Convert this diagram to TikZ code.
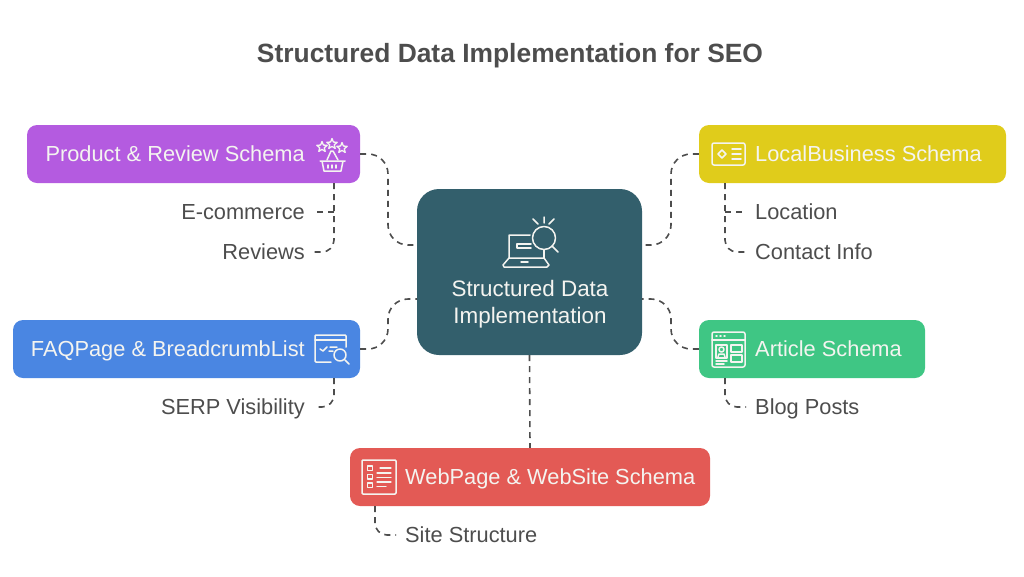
\documentclass[tikz,border=0pt]{standalone}
\usepackage{fontspec}
\setmainfont{Liberation Sans}
\usepackage{tikz}
\usetikzlibrary{positioning}
\definecolor{prodcol}{HTML}{B45BE0}
\definecolor{localcol}{HTML}{E0CC1B}
\definecolor{faqcol}{HTML}{4A86E2}
\definecolor{articlecol}{HTML}{3FC684}
\definecolor{webcol}{HTML}{E35A55}
\definecolor{datacol}{HTML}{335F6C}
\definecolor{inkcol}{HTML}{4D4D4D}
\definecolor{palecol}{HTML}{F4F4F0}
\tikzset{
	schemabox/.style={draw=none, rounded corners=10pt, inner sep=0pt, minimum height=58pt},
	schematext/.style={text=palecol, inner sep=0pt, font=\fontsize{21.8}{26}\selectfont, text height=18pt, text depth=3pt},
	leaf/.style={text=inkcol, inner xsep=9pt, inner ysep=0pt, font=\fontsize{21.8}{26}\selectfont, text height=18pt, text depth=3pt},
	link/.style={draw=inkcol, line width=1.6pt, dash pattern=on 6pt off 5pt, rounded corners=20pt},
	sublink/.style={draw=inkcol, line width=1.6pt, dash pattern=on 6pt off 5pt, rounded corners=12pt},
	iconline/.style={draw=palecol, line width=1.5pt, line join=round, line cap=round}
}
\begin{document}
\begin{tikzpicture}[x=1pt,y=-1pt]
	\useasboundingbox (0,0) rectangle (1024,576);
	\node[text=inkcol, inner sep=0pt, font=\bfseries\fontsize{26.4}{32}\selectfont] (title) at (510,55.5) {Structured Data Implementation for SEO};

	\node[schemabox, fill=datacol, rounded corners=22pt, minimum width=225pt, minimum height=166pt] (data) at (529.5,272) {};
	\node[text=palecol, inner sep=0pt, align=center, font=\fontsize{22.4}{27}\selectfont] (datatext) at (530,304) {Structured Data\\Implementation};

	\node[schemabox, fill=prodcol, minimum width=333pt] (prod) at (193.5,154) {};
	\node[schemabox, fill=localcol, minimum width=307pt] (local) at (852.5,154) {};
	\node[schemabox, fill=faqcol, minimum width=347pt] (faq) at (186.5,349) {};
	\node[schemabox, fill=articlecol, minimum width=226pt] (article) at (812,349) {};
	\node[schemabox, fill=webcol, minimum width=360pt] (web) at (530,477) {};

	\node[schematext, anchor=east] (prodtext) at (305,154) {Product \& Review Schema};
	\node[schematext, anchor=west] (localtext) at (755,154) {LocalBusiness Schema};
	\node[schematext, anchor=east] (faqtext) at (305,349) {FAQPage \& BreadcrumbList};
	\node[schematext, anchor=west] (articletext) at (755,349) {Article Schema};
	\node[schematext, anchor=west] (webtext) at (405,477) {WebPage \& WebSite Schema};

	\node[leaf, anchor=east] (ecom) at (314,212) {E-commerce};
	\node[leaf, anchor=east] (reviews) at (314,252) {Reviews};
	\node[leaf, anchor=east] (serp) at (314,407) {SERP Visibility};
	\node[leaf, anchor=west] (location) at (746,212) {Location};
	\node[leaf, anchor=west] (contact) at (746,252) {Contact Info};
	\node[leaf, anchor=west] (blog) at (746,407) {Blog Posts};
	\node[leaf, anchor=west] (site) at (396,535) {Site Structure};

	\coordinate (dataNW) at (417,245);
	\coordinate (dataSW) at (417,299);
	\coordinate (dataNE) at (642,245);
	\coordinate (dataSE) at (642,299);
	\coordinate (prodstem) at (334,183);
	\coordinate (faqstem) at (334,378);
	\coordinate (localstem) at (725,183);
	\coordinate (articlestem) at (725,378);
	\coordinate (webstem) at (375,506);

	\draw[link] (prod.east) -- (388,154) -- (388,245) -- (dataNW);
	\draw[link] (faq.east) -- (388,349) -- (388,299) -- (dataSW);
	\draw[link] (local.west) -- (671,154) -- (671,245) -- (dataNE);
	\draw[link] (article.west) -- (671,349) -- (671,299) -- (dataSE);
	\draw[link] (data.south) -- (web.north);

	\draw[sublink] (prodstem) |- (reviews.east);
	\draw[sublink] (334,212) -- (ecom.east);
	\draw[sublink] (faqstem) |- (serp.east);
	\draw[sublink] (localstem) |- (contact.west);
	\draw[sublink] (725,212) -- (location.west);
	\draw[sublink] (articlestem) |- (blog.west);
	\draw[sublink] (webstem) |- (site.west);

	% icons
	\foreach \sx/\sy in {322/147,332/144,342/148}
		\draw[iconline, line width=1.3pt, shift={(\sx,\sy)}] (-90:5.5) -- (-54:2.4) -- (-18:5.5) -- (18:2.4) -- (54:5.5) -- (90:2.4) -- (126:5.5) -- (162:2.4) -- (198:5.5) -- (234:2.4) -- cycle;
	\draw[iconline] (320,161) -- (345,161) (322,161) -- (324,171) -- (341,171) -- (343,161);
	\draw[iconline] (328,165) -- (328,168) (332,165) -- (332,168) (336,165) -- (336,168);
	\draw[iconline] (327,160) -- (331,151) -- (333,151) -- (338,160);

	\draw[iconline, rounded corners=2pt] (712,143) rectangle (745,165);
	\draw[iconline] (722,150) -- (726,154) -- (722,158) -- (718,154) -- cycle;
	\draw[iconline] (732,149) -- (741,149) (732,154) -- (741,154) (732,159) -- (741,159);

	\draw[iconline, rounded corners=1pt] (331,362) -- (315,362) -- (315,335) -- (346,335) -- (346,347);
	\draw[iconline] (315,340) -- (346,340);
	\draw[iconline] (340,355) circle (6);
	\draw[iconline] (345,360) -- (349,364);
	\draw[iconline] (320,349) -- (323,351) -- (327,347) (330,347) -- (337,347) (329,351) -- (333,351);

	\draw[iconline, rounded corners=2pt] (712,332) rectangle (745,367);
	\draw[iconline] (712,340) -- (745,340);
	\draw[iconline] (716,336) -- (717,336) (720,336) -- (721,336) (724,336) -- (725,336);
	\draw[iconline] (716,345) rectangle (727,358);
	\draw[iconline] (721.5,349.5) circle (2.5);
	\draw[iconline] (718,357) -- (719,354) -- (724,354) -- (725,357);
	\draw[iconline] (716,361) -- (727,361) (716,364) -- (724,364);
	\draw[iconline] (731,345) rectangle (742,352);
	\draw[iconline] (731,355) rectangle (742,362);

	\draw[iconline, rounded corners=1pt] (362,460) rectangle (396,494);
	\draw[iconline, line width=1.2pt] (367.5,466) rectangle (372.5,470.5) (367.5,474.5) rectangle (372.5,479) (367.5,483) rectangle (372.5,487.5);
	\draw[iconline, line width=1.2pt] (380,468) -- (391,468) (377,473) -- (391,473) (377,477.5) -- (391,477.5) (377,482) -- (391,482) (377,486.5) -- (386,486.5);

	\draw[iconline] (530,235) -- (509,235) -- (509,258) -- (503,265) -- (504,267) -- (547,267) -- (549,265) -- (544,258) -- (509,258);
	\draw[iconline] (544,250) -- (544,258);
	\draw[iconline] (544,238) circle (11.5);
	\draw[iconline] (552,246) -- (558,252);
	\draw[iconline] (531,244) -- (517,244) -- (517,248) -- (531,248);
	\draw[iconline] (521,262) -- (528,262);
	\draw[iconline] (544,217) -- (544,223) (533,219) -- (538,224) (554,219) -- (549,224);
\end{tikzpicture}
\end{document}
